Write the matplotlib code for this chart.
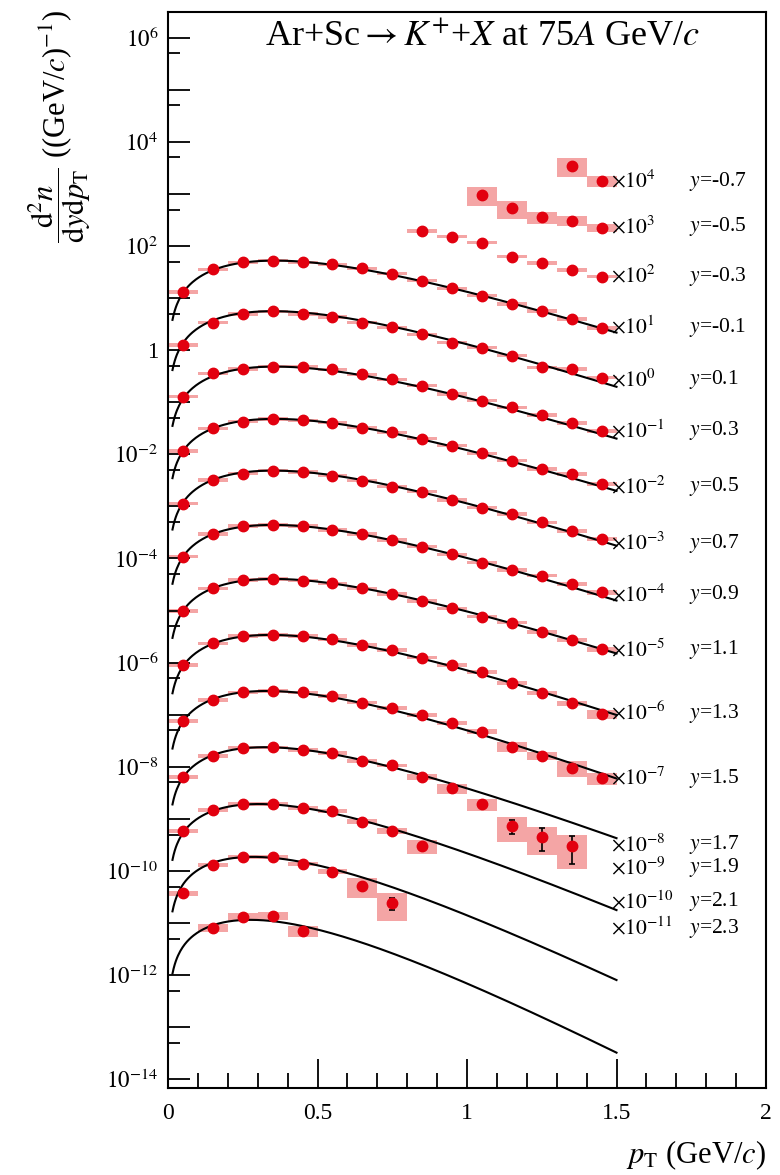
import matplotlib
matplotlib.use("Agg")
import matplotlib.pyplot as plt
import numpy as np
from matplotlib.ticker import FixedLocator, FixedFormatter, NullFormatter, MultipleLocator

plt.rcParams["font.family"] = ["Liberation Serif", "DejaVu Serif"]
plt.rcParams["mathtext.fontset"] = "stix"

nan = np.nan
M_K = 0.493677  # charged kaon mass (GeV)

# pT bin centres (GeV/c), bins are 0.1 wide
pt = np.array([0.05, 0.15, 0.25, 0.35, 0.45, 0.55, 0.65, 0.75,
               0.85, 0.95, 1.05, 1.15, 1.25, 1.35, 1.45])
pt_width = 0.1

rapidity = ["-0.7", "-0.5", "-0.3", "-0.1", "0.1", "0.3", "0.5", "0.7",
            "0.9", "1.1", "1.3", "1.5", "1.7", "1.9", "2.1", "2.3"]
scale_exp = [4, 3, 2, 1, 0, -1, -2, -3, -4, -5, -6, -7, -8, -9, -10, -11]

# d2n/dydpT of K+ (unscaled), one list per rapidity bin
k_ym07 = [nan, nan, nan, nan, nan, nan, nan, nan, nan, nan, nan, nan, nan, 0.344, 0.180]
k_ym05 = [nan, nan, nan, nan, nan, nan, nan, nan, nan, nan, 0.955, 0.530, 0.356, 0.303, 0.225]
k_ym03 = [nan, nan, nan, nan, nan, nan, nan, nan, 1.945, 1.511, 1.159, 0.624, 0.466, 0.347, 0.258]
k_ym01 = [1.293, 3.576, 4.873, 5.231, 4.873, 4.461, 3.737, 2.943, 2.160, 1.544, 1.113, 0.771, 0.566, 0.397, 0.270]
k_yp01 = [1.242, 3.373, 4.956, 5.583, 4.956, 4.341, 3.373, 2.753, 2.020, 1.393, 1.117, 0.784, 0.469, 0.436, 0.297]
k_yp03 = [1.280, 3.600, 4.356, 4.822, 4.822, 4.299, 3.444, 2.774, 2.082, 1.442, 1.072, 0.801, 0.570, 0.395, 0.281]
k_yp05 = [1.160, 3.166, 4.238, 4.775, 4.508, 4.054, 3.250, 2.628, 1.998, 1.466, 1.048, 0.755, 0.524, 0.420, 0.266]
k_yp07 = [1.129, 3.219, 4.251, 4.856, 4.585, 3.893, 3.120, 2.393, 1.919, 1.329, 0.946, 0.716, 0.496, 0.342, 0.237]
k_yp09 = [1.084, 2.957, 4.210, 4.400, 4.210, 3.527, 2.957, 2.267, 1.686, 1.205, 0.831, 0.602, 0.468, 0.320, 0.225]
k_yp11 = [0.982, 2.681, 3.870, 4.044, 3.751, 3.344, 2.681, 2.083, 1.528, 1.107, 0.763, 0.586, 0.383, 0.273, 0.181]
k_yp13 = [0.891, 2.356, 3.253, 3.400, 3.253, 2.811, 2.185, 1.751, 1.246, 0.903, 0.654, 0.402, 0.258, 0.166, 0.103]
k_yp15 = [0.759, 1.920, 2.699, 2.858, 2.699, 2.292, 1.704, 1.330, 0.989, 0.686, 0.473, 0.244, 0.162, 0.096, 0.060]
k_yp17 = [0.646, 1.615, 2.331, 2.372, 2.104, 1.868, 1.295, 1.061, 0.646, 0.387, 0.191, 0.073, 0.045, 0.030, nan]
k_yp19 = [0.586, 1.483, 1.934, 1.934, 1.642, 1.438, 0.884, 0.586, 0.306, nan, nan, nan, nan, nan, nan]
k_yp21 = [0.373, 1.304, 1.882, 1.833, 1.363, 0.969, 0.515, 0.240, nan, nan, nan, nan, nan, nan, nan]
k_yp23 = [nan, 0.815, 1.326, 1.367, 0.705, nan, nan, nan, nan, nan, nan, nan, nan, nan, nan]

# relative systematic uncertainties (boxes)
sys_ym07 = [nan, nan, nan, nan, nan, nan, nan, nan, nan, nan, nan, nan, nan, 0.40, 0.25]
sys_ym05 = [nan, nan, nan, nan, nan, nan, nan, nan, nan, nan, 0.40, 0.38, 0.25, 0.22, 0.17]
sys_ym03 = [nan, nan, nan, nan, nan, nan, nan, nan, 0.08, 0.08, 0.08, 0.08, 0.08, 0.08, 0.08]
sys_ym01 = [0.08, 0.07, 0.07, 0.07, 0.07, 0.07, 0.07, 0.07, 0.07, 0.07, 0.07, 0.07, 0.07, 0.07, 0.08]
sys_yp01 = [0.08, 0.07, 0.07, 0.07, 0.07, 0.07, 0.07, 0.07, 0.07, 0.07, 0.07, 0.07, 0.07, 0.07, 0.08]
sys_yp03 = [0.08, 0.07, 0.07, 0.07, 0.07, 0.07, 0.07, 0.07, 0.07, 0.07, 0.07, 0.07, 0.07, 0.08, 0.08]
sys_yp05 = [0.08, 0.07, 0.07, 0.07, 0.07, 0.07, 0.07, 0.07, 0.07, 0.07, 0.07, 0.07, 0.07, 0.08, 0.09]
sys_yp07 = [0.08, 0.07, 0.07, 0.07, 0.07, 0.07, 0.07, 0.07, 0.07, 0.07, 0.07, 0.07, 0.07, 0.08, 0.09]
sys_yp09 = [0.08, 0.07, 0.07, 0.07, 0.07, 0.07, 0.07, 0.07, 0.07, 0.07, 0.07, 0.07, 0.08, 0.08, 0.10]
sys_yp11 = [0.08, 0.07, 0.07, 0.07, 0.07, 0.07, 0.07, 0.07, 0.07, 0.07, 0.07, 0.08, 0.08, 0.09, 0.10]
sys_yp13 = [0.08, 0.07, 0.07, 0.07, 0.07, 0.07, 0.07, 0.07, 0.07, 0.07, 0.08, 0.08, 0.09, 0.10, 0.20]
sys_yp15 = [0.08, 0.07, 0.07, 0.07, 0.07, 0.07, 0.07, 0.08, 0.08, 0.08, 0.10, 0.20, 0.18, 0.33, 0.27]
sys_yp17 = [0.08, 0.07, 0.07, 0.07, 0.07, 0.08, 0.08, 0.08, 0.12, 0.23, 0.27, 0.50, 0.55, 0.63, nan]
sys_yp19 = [0.10, 0.08, 0.08, 0.08, 0.08, 0.08, 0.10, 0.12, 0.30, nan, nan, nan, nan, nan, nan]
sys_yp21 = [0.10, 0.08, 0.08, 0.08, 0.08, 0.10, 0.40, 0.55, nan, nan, nan, nan, nan, nan, nan]
sys_yp23 = [nan, 0.18, 0.18, 0.18, 0.22, nan, nan, nan, nan, nan, nan, nan, nan, nan, nan]

# relative statistical uncertainties where they stick out of the markers
stat_small = 0.02
stat_yp17 = [0.02, 0.02, 0.02, 0.02, 0.02, 0.02, 0.02, 0.02, 0.03, 0.05, 0.08, 0.30, 0.47, 0.55, nan]
stat_yp21 = [0.03, 0.02, 0.02, 0.02, 0.02, 0.04, 0.12, 0.25, nan, nan, nan, nan, nan, nan, nan]

# exponential-in-mT fits: dn/dy and inverse slope T (GeV)
fit_dndy = [nan, nan, nan, 3.75, 3.91, 3.46, 3.43, 3.41, 3.08, 2.85, 2.31, 1.85, 1.51, 1.13, 1.01, 0.60]
fit_T = [nan, nan, nan, 0.210, 0.203, 0.210, 0.210, 0.204, 0.203, 0.205, 0.195, 0.183, 0.178, 0.159, 0.142, 0.134]

# where the scale / rapidity labels sit on the right
label_y = [1719, 232, 25.8, 2.75, 0.268, 0.0281, 2.39e-3, 1.96e-4, 1.99e-5,
           1.75e-6, 1.07e-7, 6.03e-9, 3.16e-10, 1.14e-10, 2.57e-11, 7.94e-12]

spectra = [k_ym07, k_ym05, k_ym03, k_ym01, k_yp01, k_yp03, k_yp05, k_yp07,
           k_yp09, k_yp11, k_yp13, k_yp15, k_yp17, k_yp19, k_yp21, k_yp23]
systematics = [sys_ym07, sys_ym05, sys_ym03, sys_ym01, sys_yp01, sys_yp03, sys_yp05, sys_yp07,
               sys_yp09, sys_yp11, sys_yp13, sys_yp15, sys_yp17, sys_yp19, sys_yp21, sys_yp23]
stat_override = {12: stat_yp17, 14: stat_yp21}

RED = "#e2000f"
BOX = "#f4a5a5"


def mt_exp(p, dndy, T):
    mt = np.sqrt(p ** 2 + M_K ** 2)
    return dndy * p / (T * (M_K + T)) * np.exp(-(mt - M_K) / T)


fig = plt.figure(figsize=(7.8, 11.75), dpi=100)
ax = fig.add_axes([168 / 780, 87 / 1175, 598 / 780, 1076 / 1175])

p_fine = np.linspace(0.015, 1.5, 400)

for i in range(len(rapidity)):
    s = 10.0 ** scale_exp[i]
    v = np.array(spectra[i]) * s
    sy = np.array(systematics[i])
    st = np.array(stat_override.get(i, [stat_small] * len(pt)))
    m = ~np.isnan(v)

    ax.bar(pt[m], 2 * sy[m] * v[m], bottom=v[m] * (1 - sy[m]), width=pt_width,
           color=BOX, lw=0, zorder=1)

    if not np.isnan(fit_dndy[i]):
        ax.plot(p_fine, mt_exp(p_fine, fit_dndy[i], fit_T[i]) * s, color="black",
                lw=1.5, zorder=2)

    ax.errorbar(pt[m], v[m], yerr=st[m] * v[m], fmt="none", ecolor="black",
                elinewidth=1.2, capsize=2.5, capthick=1.2, zorder=3)
    ax.plot(pt[m], v[m], "o", color=RED, mec=RED, ms=7.5, zorder=4)

    ax.text(1.482, label_y[i], rf"$\times10^{{{scale_exp[i]}}}$", fontsize=15.5,
            ha="left", va="center")
    ax.text(1.742, label_y[i], rf"$y$={rapidity[i]}", fontsize=15.5,
            ha="left", va="center")

ax.set_xlim(0, 2)
ax.set_yscale("log")
ax.set_ylim(6.8e-15, 3.1e6)

decades = list(range(-14, 7))
ax.yaxis.set_major_locator(FixedLocator([10.0 ** k for k in decades]))
ax.yaxis.set_major_formatter(FixedFormatter(
    ["" if k % 2 else ("1" if k == 0 else rf"$10^{{{k}}}$") for k in decades]))
ax.yaxis.set_minor_locator(FixedLocator([5 * 10.0 ** k for k in range(-15, 6)]))
ax.yaxis.set_minor_formatter(NullFormatter())

ax.xaxis.set_major_locator(FixedLocator([0, 0.5, 1, 1.5, 2]))
ax.xaxis.set_major_formatter(FixedFormatter(["0", "0.5", "1", "1.5", "2"]))
ax.xaxis.set_minor_locator(MultipleLocator(0.1))

ax.tick_params(which="both", direction="in", top=False, right=False, width=1.3)
ax.tick_params(axis="y", which="major", length=15.6, pad=7, labelsize=16.5)
ax.tick_params(axis="y", which="minor", length=8.4)
ax.tick_params(axis="x", which="major", length=21, pad=11, labelsize=17)
ax.tick_params(axis="x", which="minor", length=10.8)
for sp in ax.spines.values():
    sp.set_linewidth(1.5)

ax.text(0.525, 0.977, r"Ar+Sc$\rightarrow$$K^{+}$+$X$ at 75$A$ GeV/$c$",
        transform=ax.transAxes, ha="center", va="center", fontsize=26)

fig.text(766 / 780, 1 - 1155 / 1175, r"$p_{\mathrm{T}}$ (GeV/$c$)", ha="right",
         va="center", fontsize=22)
fig.text(60 / 780, 1 - 10 / 1175,
         r"$\dfrac{\mathrm{d}^{2}n}{\mathrm{d}y\mathrm{d}p_{\mathrm{T}}}$ ((GeV/$c$)$^{-1}$)",
         rotation=90, ha="center", va="top", fontsize=22)

fig.savefig("out.png", dpi=100)
